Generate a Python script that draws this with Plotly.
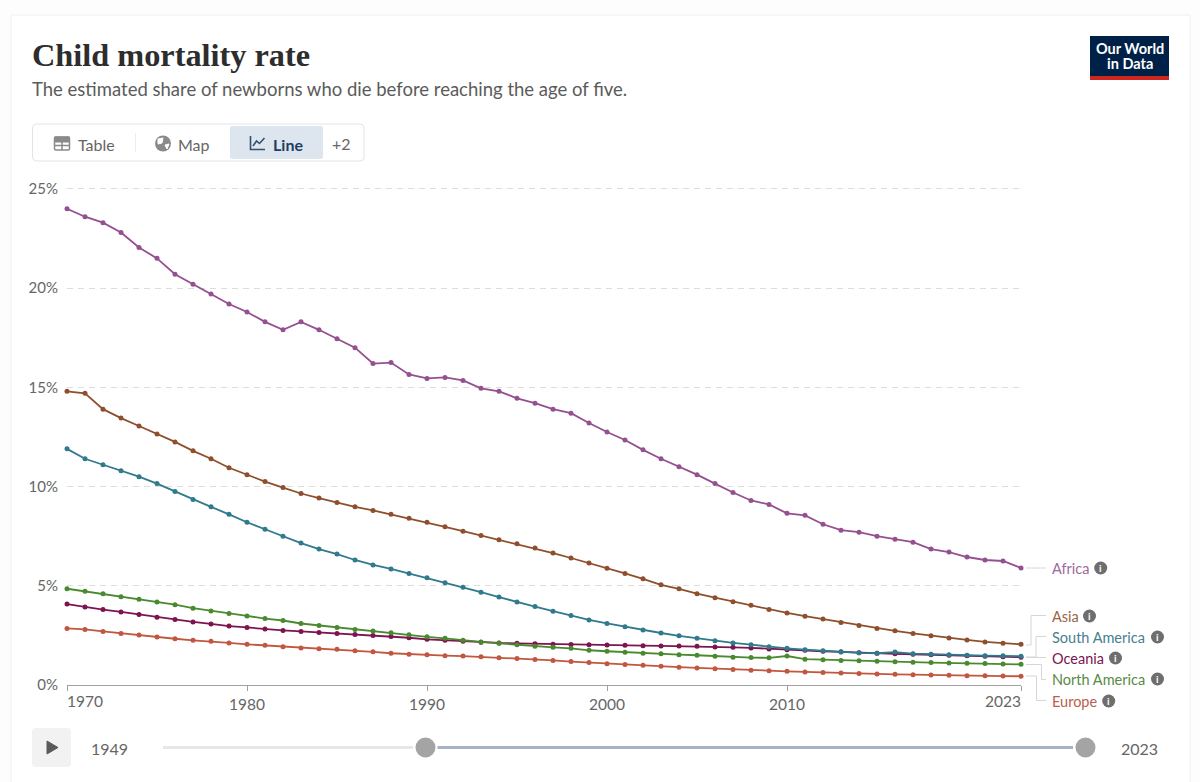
import plotly.graph_objects as go

W, H = 1200, 782

years = list(range(1970, 2024))

africa = [24.0, 23.6, 23.3, 22.8, 22.05, 21.5, 20.7, 20.2, 19.7, 19.2,
          18.8, 18.3, 17.9, 18.3, 17.9, 17.45, 17.0, 16.2, 16.25, 15.65,
          15.45, 15.5, 15.35, 14.95, 14.8, 14.45, 14.2, 13.9, 13.7, 13.2,
          12.75, 12.35, 11.85, 11.4, 11.0, 10.6, 10.15, 9.7, 9.3, 9.1,
          8.65, 8.55, 8.1, 7.8, 7.7, 7.5, 7.35, 7.2, 6.85, 6.7,
          6.45, 6.3, 6.25, 5.9]
asia = [14.8, 14.7, 13.9, 13.45, 13.05, 12.65, 12.25, 11.8, 11.4, 10.95,
        10.6, 10.25, 9.95, 9.65, 9.42, 9.2, 8.98, 8.8, 8.6, 8.4,
        8.2, 7.97, 7.75, 7.53, 7.32, 7.12, 6.9, 6.65, 6.4, 6.15,
        5.88, 5.62, 5.35, 5.05, 4.85, 4.6, 4.4, 4.2, 4.02, 3.8,
        3.63, 3.47, 3.32, 3.15, 3.0, 2.85, 2.73, 2.6, 2.48, 2.37,
        2.27, 2.17, 2.1, 2.05]
south_america = [11.9, 11.4, 11.1, 10.8, 10.5, 10.15, 9.75, 9.35, 8.98, 8.6,
                 8.2, 7.85, 7.5, 7.15, 6.85, 6.6, 6.3, 6.05, 5.85, 5.62,
                 5.4, 5.15, 4.93, 4.68, 4.43, 4.18, 3.95, 3.72, 3.5, 3.28,
                 3.1, 2.93, 2.77, 2.62, 2.48, 2.35, 2.23, 2.12, 2.03, 1.93,
                 1.85, 1.78, 1.72, 1.66, 1.62, 1.6, 1.66, 1.58, 1.55, 1.53,
                 1.5, 1.48, 1.47, 1.45]
oceania = [4.08, 3.93, 3.8, 3.68, 3.55, 3.42, 3.3, 3.18, 3.08, 2.97,
           2.9, 2.82, 2.75, 2.7, 2.65, 2.6, 2.55, 2.5, 2.45, 2.38,
           2.3, 2.25, 2.2, 2.15, 2.12, 2.1, 2.08, 2.05, 2.04, 2.03,
           2.02, 2.0, 1.98, 1.97, 1.96, 1.95, 1.92, 1.9, 1.87, 1.82,
           1.78, 1.75, 1.7, 1.67, 1.63, 1.6, 1.57, 1.55, 1.52, 1.5,
           1.47, 1.45, 1.42, 1.4]
north_america = [4.85, 4.72, 4.6, 4.45, 4.32, 4.18, 4.05, 3.87, 3.73, 3.6,
                 3.48, 3.35, 3.25, 3.1, 3.0, 2.9, 2.8, 2.72, 2.63, 2.53,
                 2.43, 2.35, 2.25, 2.17, 2.1, 2.03, 1.95, 1.9, 1.85, 1.75,
                 1.7, 1.65, 1.6, 1.57, 1.53, 1.5, 1.45, 1.4, 1.38, 1.37,
                 1.46, 1.3, 1.27, 1.24, 1.22, 1.2, 1.17, 1.15, 1.13, 1.11,
                 1.1, 1.08, 1.06, 1.04]
europe = [2.85, 2.8, 2.7, 2.6, 2.52, 2.42, 2.33, 2.25, 2.2, 2.12,
          2.05, 2.0, 1.93, 1.87, 1.83, 1.8, 1.73, 1.67, 1.6, 1.55,
          1.52, 1.48, 1.46, 1.42, 1.37, 1.33, 1.28, 1.24, 1.18, 1.13,
          1.07, 1.03, 1.0, 0.95, 0.9, 0.86, 0.82, 0.78, 0.74, 0.72,
          0.69, 0.66, 0.63, 0.61, 0.58, 0.56, 0.54, 0.52, 0.5, 0.49,
          0.47, 0.46, 0.45, 0.44]

y_ticks = [0, 5, 10, 15, 20, 25]
y_labels = ["0%", "5%", "10%", "15%", "20%", "25%"]
x_ticks = [1970, 1980, 1990, 2000, 2010, 2023]
x_labels = ["", "1980", "1990", "2000", "2010", ""]

# drawn in this order, last one on top
series = [
    ("Africa", africa, "#94508f"),
    ("Asia", asia, "#8f4f2c"),
    ("Oceania", oceania, "#7d1450"),
    ("North America", north_america, "#4a8a2f"),
    ("Europe", europe, "#c2573f"),
    ("South America", south_america, "#2f7a8c"),
]

TEXT = "#666666"
FONT = "Lato"


def px(x):
    return x / W


def py(y):
    return 1 - y / H


shapes = []
annotations = []


def rect(x0, y0, x1, y1, fill="rgba(0,0,0,0)", line="rgba(0,0,0,0)", width=1, r=0):
    if r:
        path = (
            f"M {px(x0 + r)} {py(y0)} L {px(x1 - r)} {py(y0)} Q {px(x1)} {py(y0)} {px(x1)} {py(y0 + r)} "
            f"L {px(x1)} {py(y1 - r)} Q {px(x1)} {py(y1)} {px(x1 - r)} {py(y1)} "
            f"L {px(x0 + r)} {py(y1)} Q {px(x0)} {py(y1)} {px(x0)} {py(y1 - r)} "
            f"L {px(x0)} {py(y0 + r)} Q {px(x0)} {py(y0)} {px(x0 + r)} {py(y0)} Z"
        )
        shapes.append(dict(type="path", path=path, xref="paper", yref="paper", fillcolor=fill,
                           line=dict(color=line, width=width), layer="below"))
    else:
        shapes.append(dict(type="rect", x0=px(x0), x1=px(x1), y0=py(y0), y1=py(y1), xref="paper", yref="paper",
                           fillcolor=fill, line=dict(color=line, width=width), layer="below"))


def poly(points, color, width=1, fill=None):
    path = "M " + " L ".join(f"{px(x)} {py(y)}" for x, y in points)
    if fill:
        path += " Z"
    shapes.append(dict(type="path", path=path, xref="paper", yref="paper",
                       fillcolor=fill if fill else "rgba(0,0,0,0)",
                       line=dict(color=color, width=width), layer="above"))


def circle(cx, cy, r, fill, line="rgba(0,0,0,0)", width=0):
    shapes.append(dict(type="circle", x0=px(cx - r), x1=px(cx + r), y0=py(cy - r), y1=py(cy + r),
                       xref="paper", yref="paper", fillcolor=fill,
                       line=dict(color=line, width=width), layer="above"))


def text(x, y, s, size=14, color=TEXT, anchor="left", family=FONT):
    annotations.append(dict(x=px(x), y=py(y), xref="paper", yref="paper", text=s, showarrow=False,
                            xanchor=anchor, yanchor="middle", align=anchor,
                            font=dict(size=size, color=color, family=family),
                            borderpad=0, borderwidth=0))


# card
rect(11, 15, 1190, 800, fill="#ffffff", line="#f0f0f0")

# header
text(32, 55, "<b>Child mortality rate</b>", size=32.3, color="#2d2d2d", family="Liberation Serif")
text(32, 89, "The estimated share of newborns who die before reaching the age of five.", size=18.5, color="#5b5b5b")

# logo
rect(1090, 36, 1169, 80, fill="#002147")
rect(1090, 76, 1169, 80, fill="#ce261e")
text(1129.5, 48.5, "<b>Our World</b>", size=14.5, color="#ffffff", anchor="center")
text(1129.5, 64, "<b>in Data</b>", size=14.5, color="#ffffff", anchor="center")

# tab bar
rect(32.5, 124, 364, 161, fill="#ffffff", line="#e4e4e4", r=4)
rect(230, 126, 323, 159, fill="#dde5ee", r=2)
poly([(135.5, 133), (135.5, 152)], "#eeeeee")
text(78, 144, "Table", size=16)
text(178, 144, "Map", size=16)
text(273, 144, "<b>Line</b>", size=16, color="#1d3d63")
text(332, 143, "+2", size=16)

# table icon
rect(54.5, 137, 69.5, 150, fill="#ffffff", line="#8a8a8a", width=1.5, r=1.5)
poly([(54.5, 137), (69.5, 137), (69.5, 142), (54.5, 142)], "#8a8a8a", 1, fill="#8a8a8a")
poly([(54.5, 145.5), (69.5, 145.5)], "#8a8a8a", 1.5)
poly([(62, 142), (62, 150)], "#8a8a8a", 1.5)
# globe icon
circle(163, 143.5, 8, "#8a8a8a")
poly([(158, 139), (163, 138), (162, 143), (158, 144)], "#ffffff", 1, fill="#ffffff")
poly([(165, 145), (169, 144), (167, 149)], "#ffffff", 1, fill="#ffffff")
# line icon
poly([(250.5, 136), (250.5, 149.5), (265, 149.5)], "#34506f", 1.6)
poly([(253, 146), (256.5, 141), (259.5, 143.5), (264.5, 138)], "#34506f", 1.6)

# connectors next to the line labels
GREY = "#d6d6d6"
poly([(1026, 568), (1046, 568)], GREY)
poly([(1026, 645), (1031, 645), (1031, 615.5), (1046, 615.5)], GREY)
poly([(1026, 657), (1036, 657), (1036, 636.5), (1046, 636.5)], GREY)
poly([(1026, 657.5), (1046, 657.5)], GREY)
poly([(1026, 664.5), (1041.5, 664.5), (1041.5, 679.5), (1046, 679.5)], GREY)
poly([(1026, 676), (1036.5, 676), (1036.5, 700.5), (1046, 700.5)], GREY)

# line labels, with their info dots
line_labels = [
    ("Africa", 568, 1100.7, "#a06a9c"),
    ("Asia", 616, 1089.5, "#9a6545"),
    ("South America", 637, 1157.5, "#46808f"),
    ("Oceania", 658, 1115.5, "#7d1450"),
    ("North America", 679, 1157.5, "#5a8a45"),
    ("Europe", 701, 1108.7, "#b8604e"),
]
for name, y, dot_x, color in line_labels:
    text(1052, y, name, size=14.5, color=color)
    circle(dot_x, y, 6.5, "#6e6e6e")
    text(dot_x, y, "<b>i</b>", size=10, color="#ffffff", anchor="center")

# x axis end labels sit inside the axis ends
text(67, 701, "1970", size=15.5)
text(1021, 701, "2023", size=15.5, anchor="right")

# timeline
rect(32, 728, 71, 767, fill="#f2f2f2", r=4)
poly([(47, 741), (47, 754), (58, 747.5)], "#5b5b5b", 1, fill="#5b5b5b")
text(91, 748, "1949", size=16)
text(1121, 748, "2023", size=16)
poly([(163, 747.5), (413, 747.5)], "#e7e7e7", 3)
poly([(437.5, 747.5), (1073, 747.5)], "#a7b2c9", 3)
circle(425.5, 747.5, 10, "#a4a4a4")
circle(1085.5, 747.5, 10, "#a4a4a4")

fig = go.Figure()
for name, values, color in series:
    fig.add_trace(go.Scatter(
        x=years,
        y=values,
        name=name,
        mode="lines+markers",
        line=dict(color=color, width=1.8),
        marker=dict(color=color, size=5),
        cliponaxis=False,
    ))

fig.update_layout(
    width=W,
    height=H,
    margin=dict(l=0, r=0, t=0, b=0, autoexpand=False),
    paper_bgcolor="#fdfdfd",
    plot_bgcolor="rgba(0,0,0,0)",
    showlegend=False,
    font=dict(family=FONT, color=TEXT, size=14),
    shapes=shapes,
    annotations=annotations,
    xaxis=dict(
        domain=[px(67), px(1021)],
        range=[1970, 2023],
        tickvals=x_ticks,
        ticktext=x_labels,
        ticks="outside",
        ticklen=5,
        tickcolor="#a1a1a1",
        showline=True,
        linecolor="#a1a1a1",
        linewidth=1,
        showgrid=False,
        zeroline=False,
        tickfont=dict(size=15.5, color=TEXT),
    ),
    yaxis=dict(
        # a little headroom above 25% so its gridline gets drawn
        domain=[py(685), py(179)],
        range=[0, 25.5],
        tickvals=y_ticks,
        ticktext=y_labels,
        ticks="outside",
        ticklen=5,
        tickcolor="rgba(0,0,0,0)",
        showgrid=True,
        gridcolor="#dddddd",
        griddash="6px,5px",
        gridwidth=1,
        zeroline=False,
        showline=False,
        tickfont=dict(size=15, color=TEXT),
    ),
)

fig.write_html("out.html", config=dict(displayModeBar=False), post_script="document.body.style.margin='0';")
